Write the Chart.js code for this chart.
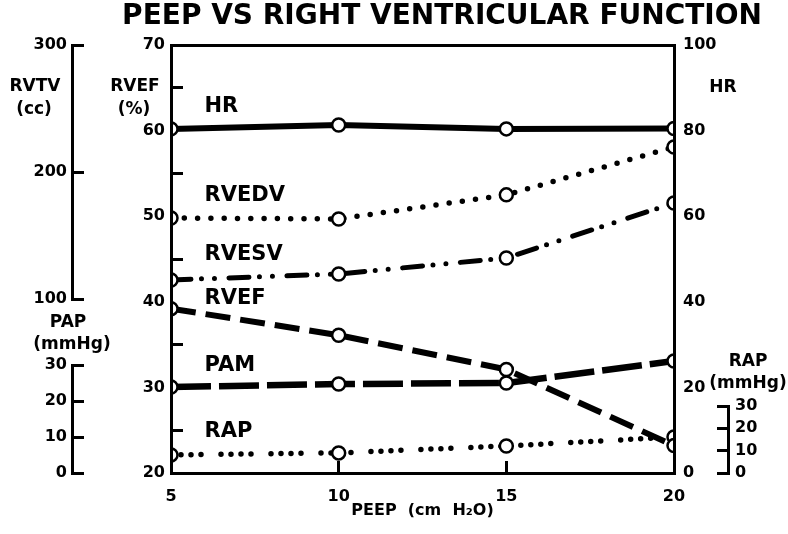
<!DOCTYPE html>
<html>
<head>
<meta charset="utf-8">
<title>PEEP vs Right Ventricular Function</title>
<script src="https://cdn.jsdelivr.net/npm/chart.js@4.4.1/dist/chart.umd.min.js"></script>
<style>
  html, body { margin: 0; padding: 0; background: #fff; }
  canvas { display: block; }
</style>
</head>
<body>
<canvas id="peepChart" width="788" height="534"></canvas>
<script>
const peep = [5, 10, 15, 20];
const hr = [80.4, 81.3, 80.4, 80.5];
const rvedv = [163.8, 163, 182, 219.7];
const rvesv = [115, 119.7, 132.3, 175.6];
const rvef = [39.2, 36.1, 32.1, 23.2];
const pam = [23.9, 24.7, 25, 31.1];
const rap = [8.1, 9, 12.1, 16.1];

const peepTicks = [5, 10, 15, 20];
const rvefTicks = [20, 25, 30, 35, 40, 45, 50, 55, 60, 65, 70];
const hrTicks = [0, 20, 40, 60, 80, 100];
const rvtvTicks = [100, 200, 300];
const pressureTicks = [0, 10, 20, 30];

const seriesNames = ["HR", "RVEDV", "RVESV", "RVEF", "PAM", "RAP"];
// where the names sit, in RVEF units, just right of PEEP 5
const nameAnchorY = [62.8, 52.4, 45.5, 40.4, 32.6, 24.8];

const black = "#000";
const bold = (size) => ({ family: "DejaVu Sans", size: size, weight: "bold" });

function fixWidth(w) {
  return (scale) => { scale.width = w; };
}
function setTicks(values) {
  return (scale) => { scale.ticks = values.map((v) => ({ value: v })); };
}
function pts(values) {
  return peep.map((x, i) => ({ x: x, y: values[i] }));
}

Chart.defaults.font.family = "DejaVu Sans";
Chart.defaults.font.weight = "bold";
Chart.defaults.font.size = 16;
Chart.defaults.color = black;

// axis titles drawn beside the axes: [text, scale id, value, offset from axis line]
const axisTitles = [
  ["RVTV", "rvtv", 266.9, -37],
  ["(cc)", "rvtv", 248.8, -38],
  ["RVEF", "y", 65.1, -36],
  ["(%)", "y", 62.5, -37],
  ["HR", "hr", 90, 49],
  ["PAP", "pap", 41.7, -4],
  ["(mmHg)", "pap", 35.6, 0],
  ["RAP", "rap", 49.7, 20],
  ["(mmHg)", "rap", 39.9, 20],
];

const textPlugin = {
  id: "textPlugin",
  afterDraw(chart) {
    const ctx = chart.ctx;
    const s = chart.scales;
    ctx.save();
    ctx.fillStyle = black;
    ctx.textBaseline = "middle";

    ctx.font = "bold 21px 'DejaVu Sans'";
    ctx.textAlign = "left";
    seriesNames.forEach((name, i) => {
      ctx.fillText(name, s.x.getPixelForValue(6), s.y.getPixelForValue(nameAnchorY[i]));
    });

    ctx.font = "bold 17px 'DejaVu Sans'";
    ctx.textAlign = "center";
    axisTitles.forEach(([text, id, value, dx]) => {
      const sc = s[id];
      const line = sc.position === "left" ? sc.right : sc.left;
      ctx.fillText(text, line + dx, sc.getPixelForValue(value));
    });
    ctx.restore();
  },
};

const lineCommon = {
  borderColor: black,
  pointRadius: 6.5,
  pointHoverRadius: 6.5,
  pointBorderWidth: 2.5,
  pointBackgroundColor: "#fff",
  pointBorderColor: black,
  fill: false,
  tension: 0,
  clip: 0,
};

const ctx = document.getElementById("peepChart").getContext("2d");

new Chart(ctx, {
  type: "line",
  data: {
    datasets: [
      { ...lineCommon, label: "HR", data: pts(hr), yAxisID: "hr", borderWidth: 6 },
      { ...lineCommon, label: "RVEDV", data: pts(rvedv), yAxisID: "rvtv", borderWidth: 5.5,
        borderDash: [0, 13.3], borderCapStyle: "round" },
      { ...lineCommon, label: "RVESV", data: pts(rvesv), yAxisID: "rvtv", borderWidth: 5,
        borderDash: [20, 10.5, 0, 13, 0, 14.5], borderCapStyle: "round" },
      { ...lineCommon, label: "RVEF", data: pts(rvef), yAxisID: "y", borderWidth: 6,
        borderDash: [25, 10] },
      { ...lineCommon, label: "PAM", data: pts(pam), yAxisID: "pap", borderWidth: 6.5,
        borderDash: [40, 8] },
      { ...lineCommon, label: "RAP", data: pts(rap), yAxisID: "rap", borderWidth: 5.5,
        borderDash: [0, 10, 0, 10, 0, 10, 0, 20], borderCapStyle: "round" },
    ],
  },
  options: {
    responsive: false,
    animation: false,
    events: [],
    layout: { padding: { left: 0, right: 26, top: 0, bottom: 0 } },
    plugins: {
      legend: { display: false },
      tooltip: { enabled: false },
      title: {
        display: true,
        text: "PEEP VS RIGHT VENTRICULAR FUNCTION",
        align: "end",
        color: black,
        font: bold(28),
        padding: { top: 0, bottom: 11.4 },
      },
    },
    scales: {
      y: {
        type: "linear",
        position: "left",
        min: 20,
        max: 70,
        afterBuildTicks: setTicks(rvefTicks),
        ticks: { padding: 18, autoSkip: false, font: bold(16),
          callback: (v) => (v % 10 === 0 ? String(v) : "") },
        grid: {
          drawOnChartArea: false,
          tickLength: -12,
          lineWidth: 3,
          color: (c) => (c.tick && c.tick.value % 10 === 0 ? "rgba(0,0,0,0)" : black),
          z: 1,
        },
        border: { display: true, color: black, width: 3, z: 1 },
        afterFit: fixWidth(99),
      },
      x: {
        type: "linear",
        position: "bottom",
        min: 5,
        max: 20,
        afterBuildTicks: setTicks(peepTicks),
        ticks: { padding: 26, autoSkip: false, font: bold(16) },
        grid: { drawOnChartArea: false, tickLength: -12, lineWidth: 3, color: black, z: 1 },
        border: { display: true, color: black, width: 3, z: 1 },
        title: {
          display: true,
          text: "PEEP  (cm  H₂O)",
          color: black,
          font: bold(16),
          padding: { top: 0, bottom: 14 },
        },
        afterFit: (s) => { s.height = 61; },
      },
      xTop: {
        type: "linear",
        position: "top",
        min: 5,
        max: 20,
        ticks: { display: false },
        grid: { drawOnChartArea: false, drawTicks: false },
        border: { display: true, color: black, width: 3, z: 1 },
        afterFit: (s) => { s.height = 0; },
      },
      hr: {
        type: "linear",
        position: "right",
        min: 0,
        max: 100,
        afterBuildTicks: setTicks(hrTicks),
        ticks: { padding: 9, autoSkip: false, font: bold(16) },
        grid: { drawOnChartArea: false, drawTicks: false },
        border: { display: true, color: black, width: 3, z: 1 },
        afterFit: fixWidth(54),
      },
      pap: {
        type: "linear",
        position: "left",
        stack: "outerLeft",
        stackWeight: 108,
        weight: 10,
        clip: false,
        min: 0,
        max: 30,
        afterBuildTicks: setTicks(pressureTicks),
        ticks: { padding: 17, autoSkip: false, font: bold(16) },
        grid: { drawOnChartArea: false, tickLength: -12, lineWidth: 3, color: black },
        border: { display: true, color: black, width: 3 },
        afterFit: fixWidth(72),
      },
      leftGap: {
        type: "linear",
        position: "left",
        stack: "outerLeft",
        stackWeight: 66,
        weight: 10,
        min: 0,
        max: 1,
        ticks: { display: false },
        grid: { display: false },
        border: { display: false },
        afterFit: fixWidth(72),
      },
      rvtv: {
        type: "linear",
        position: "left",
        stack: "outerLeft",
        stackWeight: 254,
        weight: 10,
        clip: false,
        min: 100,
        max: 300,
        afterBuildTicks: setTicks(rvtvTicks),
        ticks: { padding: 17, autoSkip: false, font: bold(16) },
        grid: { drawOnChartArea: false, tickLength: -12, lineWidth: 3, color: black },
        border: { display: true, color: black, width: 3 },
        afterFit: fixWidth(72),
      },
      rightGap: {
        type: "linear",
        position: "right",
        stack: "outerRight",
        stackWeight: 361,
        weight: 10,
        min: 0,
        max: 1,
        ticks: { display: false },
        grid: { display: false },
        border: { display: false },
        afterFit: fixWidth(34),
      },
      rap: {
        type: "linear",
        position: "right",
        stack: "outerRight",
        stackWeight: 67,
        weight: 10,
        clip: false,
        min: 0,
        max: 30,
        afterBuildTicks: setTicks(pressureTicks),
        ticks: { padding: 18, autoSkip: false, font: bold(16) },
        grid: { drawOnChartArea: false, tickLength: -11, lineWidth: 3, color: black },
        border: { display: true, color: black, width: 3 },
        afterFit: fixWidth(34),
      },
    },
  },
  plugins: [textPlugin],
});
</script>
</body>
</html>
